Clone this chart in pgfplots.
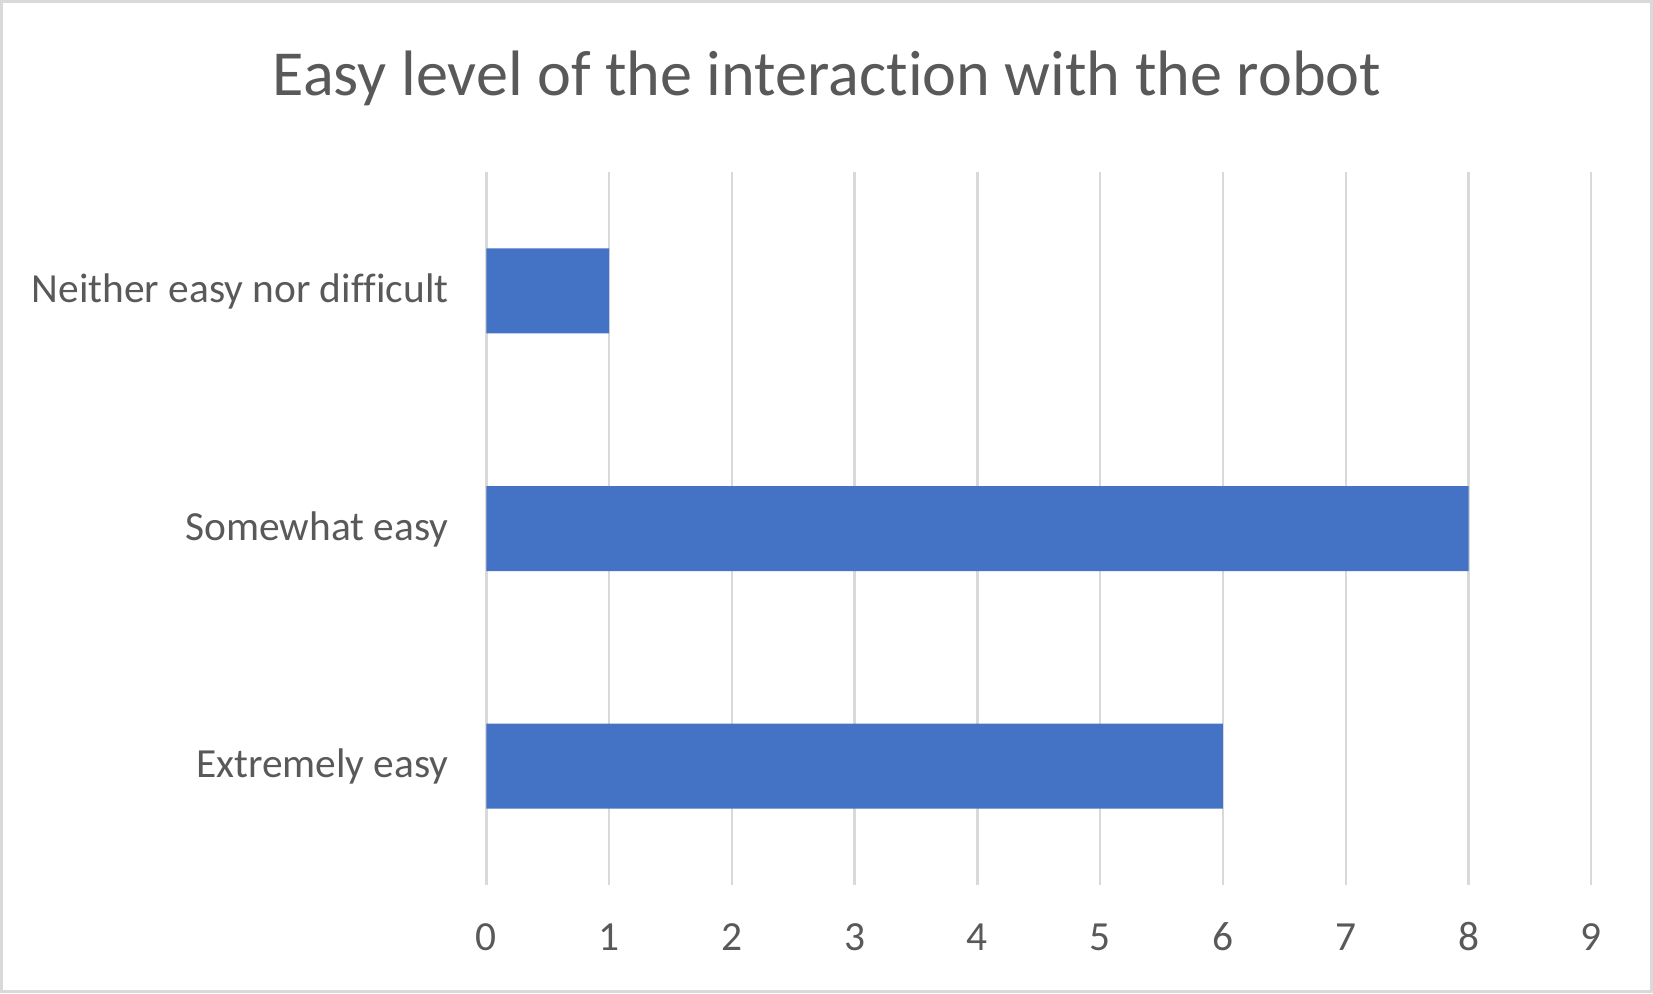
\documentclass[border=0pt]{standalone}
\usepackage{pgfplots}
\pgfplotsset{compat=1.18}
\usepackage{fontspec}
\setmainfont{Carlito}[Ligatures={NoCommon,NoRequired,NoContextual}]
\definecolor{barblue}{HTML}{4472C4}
\definecolor{gridgray}{HTML}{D9D9D9}
\definecolor{txtgray}{HTML}{595959}
\begin{document}
\begin{tikzpicture}
\path[draw=gridgray, line width=1.4pt] (0.7pt,0.7pt) rectangle (825.8pt,495.8pt);
\node[anchor=base, text=txtgray, inner sep=0pt, font=\fontsize{32.1pt}{39pt}\selectfont] at (413.5pt,448.5pt) {Easy level of the interac\kern0pt t\kern0pt ion with the robot};
\begin{axis}[
  at={(243.15pt,54pt)}, anchor=south west,
  scale only axis, width=552.5pt, height=356.5pt,
  xbar, bar width=42.5pt,
  xmin=0, xmax=9, ymin=-0.5, ymax=2.5,
  xtick={0,...,9}, ytick={0,1,2},
  yticklabels={Extremely easy, Somewhat easy, Neither easy nor di\kern0pt f\kern0pt f\kern0pt icult},
  xmajorgrids, major grid style={draw=gridgray, line width=1.2pt},
  axis line style={draw=none}, major tick style={draw=none},
  /pgf/number format/assume math mode=true,
  xticklabel style={anchor=base, inner sep=0pt, yshift=-32.7pt, text=txtgray, font=\fontsize{20.7pt}{25pt}\selectfont},
  yticklabel style={anchor=base east, inner sep=0pt, xshift=-14.4pt, yshift=-5.75pt, text=txtgray, font=\fontsize{20.7pt}{25pt}\selectfont},
]
\addplot[fill=barblue, draw=none] coordinates {(6,0) (8,1) (1,2)};
\end{axis}
\end{tikzpicture}
\end{document}
